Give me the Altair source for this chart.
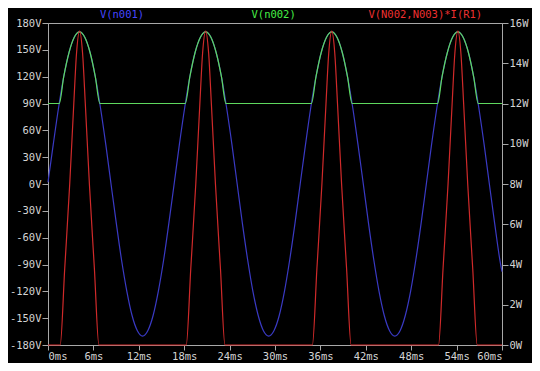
import altair as alt
import pandas as pd

# ---- data ----
t_ms = [0, 0.69, 1.39, 2.08, 2.78, 3.47, 4.17, 4.86, 5.56, 6.25, 6.94, 7.64,
        8.33, 9.03, 9.72, 10.42, 11.11, 11.81, 12.5, 13.19, 13.89, 14.58, 15.28, 15.97,
        16.67, 17.36, 18.06, 18.75, 19.44, 20.14, 20.83, 21.53, 22.22, 22.92, 23.61, 24.31,
        25.0, 25.69, 26.39, 27.08, 27.78, 28.47, 29.17, 29.86, 30.56, 31.25, 31.94, 32.64,
        33.33, 34.03, 34.72, 35.42, 36.11, 36.81, 37.5, 38.19, 38.89, 39.58, 40.28, 40.97,
        41.67, 42.36, 43.06, 43.75, 44.44, 45.14, 45.83, 46.53, 47.22, 47.92, 48.61, 49.31,
        50.0, 50.69, 51.39, 52.08, 52.78, 53.47, 54.17, 54.86, 55.56, 56.25, 56.94, 57.64,
        58.33, 59.03, 59.72, 60.0]
v_n001 = [2, 44, 85, 120, 147, 164, 170, 164, 147, 120, 85, 44,
          0, -44, -85, -120, -147, -164, -170, -164, -147, -120, -85, -44,
          0, 44, 85, 120, 147, 164, 170, 164, 147, 120, 85, 44,
          0, -44, -85, -120, -147, -164, -170, -164, -147, -120, -85, -44,
          0, 44, 85, 120, 147, 164, 170, 164, 147, 120, 85, 44,
          0, -44, -85, -120, -147, -164, -170, -164, -147, -120, -85, -44,
          0, 44, 85, 120, 147, 164, 170, 164, 147, 120, 85, 44,
          0, -44, -85, -98]

t_n002 = [0, 1.48, 2.08, 2.78, 3.47, 4.17, 4.86, 5.56, 6.25, 6.86,
          18.14, 18.75, 19.44, 20.14, 20.83, 21.53, 22.22, 22.92, 23.52,
          34.81, 35.42, 36.11, 36.81, 37.5, 38.19, 38.89, 39.58, 40.19,
          51.48, 52.08, 52.78, 53.47, 54.17, 54.86, 55.56, 56.25, 56.86, 60.0]
v_n002 = [90, 90, 120, 147, 164, 170, 164, 147, 120, 90,
          90, 120, 147, 164, 170, 164, 147, 120, 90,
          90, 120, 147, 164, 170, 164, 147, 120, 90,
          90, 120, 147, 164, 170, 164, 147, 120, 90, 90]

t_pow = [0,
         1.61, 2.21, 2.87, 3.41, 3.77, 4.17, 4.57, 4.93, 5.47, 6.13, 6.73,
         18.27, 18.87, 19.53, 20.07, 20.43, 20.83, 21.23, 21.59, 22.13, 22.79, 23.39,
         34.94, 35.54, 36.2, 36.74, 37.1, 37.5, 37.9, 38.26, 38.8, 39.46, 40.06,
         51.61, 52.21, 52.87, 53.41, 53.77, 54.17, 54.57, 54.93, 55.47, 56.13, 56.73,
         60.0]
w_pow = [0,
         0, 3.8, 8, 12, 14.5, 15.6, 14.5, 12, 8, 3.8, 0,
         0, 3.8, 8, 12, 14.5, 15.6, 14.5, 12, 8, 3.8, 0,
         0, 3.8, 8, 12, 14.5, 15.6, 14.5, 12, 8, 3.8, 0,
         0, 3.8, 8, 12, 14.5, 15.6, 14.5, 12, 8, 3.8, 0,
         0]

series_names = ["V(n001)", "V(n002)", "V(N002,N003)*I(R1)"]
line_colors = ["#3a3ac4", "#5ed85e", "#d02a2a"]
text_colors = ["#4646ff", "#46ee46", "#ee3030"]
x_ticks = list(range(0, 61, 6))
v_ticks = list(range(-180, 181, 30))
w_ticks = list(range(0, 17, 2))

# ---- chart ----
FONT = "DejaVu Sans Mono"
AX = "#a8a8a8"
LAB = "#d4d4d4"
W, H = 454, 322

left_df = pd.DataFrame({
    "t": t_ms + t_n002,
    "v": v_n001 + v_n002,
    "s": [series_names[0]] * len(t_ms) + [series_names[1]] * len(t_n002),
})
red_df = pd.DataFrame({"t": t_pow, "w": w_pow})

x_enc = alt.X("t:Q", scale=alt.Scale(domain=[0, 60], nice=False, zero=False),
              axis=alt.Axis(values=x_ticks, labelExpr="datum.value + 'ms'", title=None,
                            grid=False, tickSize=5, labelPadding=1))

left = alt.Chart(left_df).mark_line(strokeWidth=1.2, interpolate="monotone").encode(
    x=x_enc,
    y=alt.Y("v:Q", scale=alt.Scale(domain=[-180, 180], nice=False),
            axis=alt.Axis(values=v_ticks, labelExpr="datum.value + 'V'", title=None,
                          grid=False, orient="left", tickSize=6, labelPadding=1)),
    color=alt.Color("s:N", scale=alt.Scale(domain=series_names[:2], range=line_colors[:2]),
                    legend=None),
)

red = alt.Chart(red_df).mark_line(strokeWidth=1.2, interpolate="monotone",
                                  color=line_colors[2]).encode(
    x=x_enc,
    y=alt.Y("w:Q", scale=alt.Scale(domain=[0, 16], nice=False),
            axis=alt.Axis(values=w_ticks, labelExpr="datum.value + 'W'", title=None,
                          grid=False, orient="right", tickSize=6, labelPadding=1)),
)

title_pos = [0.163, 0.497, 0.831]
texts = []
for name, col, frac in zip(series_names, text_colors, title_pos):
    texts.append(
        alt.Chart(pd.DataFrame({"label": [name]})).mark_text(
            font=FONT, fontSize=10.5, color=col, baseline="middle", align="center"
        ).encode(text="label:N", x=alt.value(W * frac), y=alt.value(-8))
    )

chart = alt.layer(left, red, *texts).resolve_scale(y="independent").properties(
    width=W, height=H,
    padding={"left": 40, "top": 15, "right": 30, "bottom": 18},
    autosize=alt.AutoSizeParams(type="none"),
    background="black",
).configure_view(stroke=AX, strokeWidth=1).configure_axis(
    domainColor=AX, tickColor=AX, labelColor=LAB, labelFont=FONT, labelFontSize=10.5,
    domainWidth=1, tickWidth=1,
)

chart.save("out.html", embed_options={"renderer": "svg", "actions": False})
